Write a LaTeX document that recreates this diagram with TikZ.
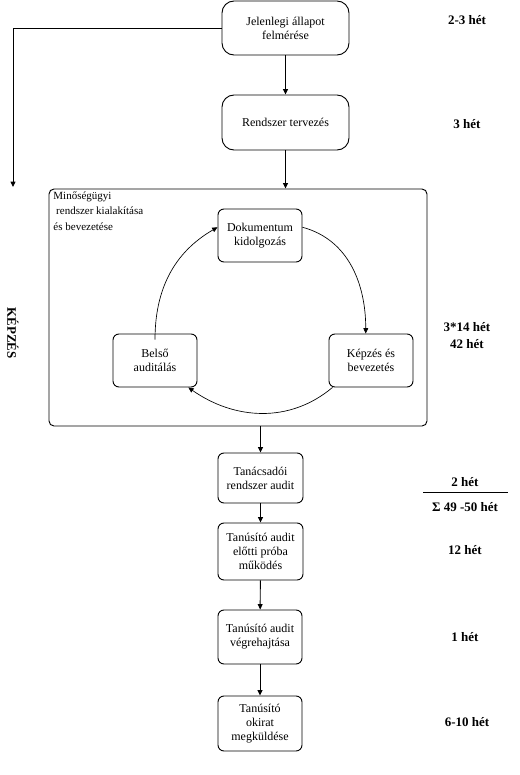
\documentclass[tikz,border=0pt]{standalone}
\usepackage{fontspec}
\setmainfont{Liberation Serif}
\usetikzlibrary{arrows.meta}
\begin{document}
\begin{tikzpicture}[x=0.75pt,y=-0.75pt,
  line width=0.7pt,
  arr/.style={-{Triangle[length=4pt,width=3.6pt]}},
  bigbox/.style={draw, rounded corners=9pt, inner sep=0pt, align=center,
     minimum width=95.25pt, font=\fontsize{9}{10.4}\selectfont},
  smallbox/.style={draw, rounded corners=4.5pt, inner sep=0pt, align=center,
     minimum width=63pt, font=\fontsize{9}{10.4}\selectfont},
  week/.style={font=\fontsize{9.75}{12.75}\selectfont\bfseries, align=center, inner sep=0pt}]
\useasboundingbox[fill=white] (0,0) rectangle (519,775);

% top boxes
\node[bigbox, minimum height=40.5pt] (b1) at (285.5,28) {Jelenlegi állapot\\felmérése};
\node[bigbox, minimum height=41.25pt] (b2) at (285.5,122.5) {Rendszer tervezés};

% big frame
\node[draw, rounded corners=3.75pt, minimum width=283.5pt, minimum height=177.75pt, inner sep=0pt] (frame) at (238,307.5) {};
\node[anchor=north west, align=left, inner sep=0pt, font=\fontsize{8.25}{11.5}\selectfont] (flabel) at (53,191.5)
  {Minőségügyi\\\ rendszer kialakítása\\és bevezetése};

% cycle boxes
\node[smallbox, minimum height=39.75pt] (dok) at (260,235.5) {Dokumentum\\kidolgozás};
\node[smallbox, minimum height=39.75pt] (bel) at (155,360.5) {Belső\\auditálás};
\node[smallbox, minimum height=39.75pt] (kep) at (371,360.5) {Képzés és\\bevezetés};

% lower boxes
\node[smallbox, minimum width=63.75pt, minimum height=37.5pt] (tan) at (260.5,478) {Tanácsadói\\rendszer audit};
\node[smallbox, minimum width=63.75pt, minimum height=42.75pt] (pro) at (260.5,551.5) {Tanúsító audit\\előtti próba\\működés};
\node[smallbox, minimum height=40.5pt] (veg) at (260,637) {Tanúsító audit\\végrehajtása};
\node[smallbox, minimum height=41.25pt] (oki) at (260,723.5) {Tanúsító\\okirat\\megküldése};

% connectors
\draw[arr] (b1) -- (b2);
\draw[arr] (b2.south) -- (b2.south |- frame.north);
\coordinate (kend) at (13,187);
\draw[arr] (b1.west) -| (kend);
\draw[arr] (tan.north |- frame.south) -- (tan.north);
\draw[arr] (tan) -- (pro);
\draw[arr] (pro) -- (veg);
\draw[arr] (veg) -- (oki);

% cycle
\draw[arr, line width=0.5pt] (dok.11) to[out=-15, in=90] (kep.101);
\draw[arr, line width=0.5pt] (kep.-145) to[out=-140, in=-35] (bel.-39);
\draw[arr, line width=0.5pt] ([yshift=-4.5pt]bel.north) to[out=90, in=-150] (dok.169);

% KÉPZÉS
\node[week, rotate=-90] (kepzes) at (13,333) {KÉPZÉS};

% week labels
\node[week] (w1) at (467,20) {2-3 hét};
\node[week] (w2) at (467,124) {3 hét};
\node[week] (w3) at (467,335.5) {3*14 hét\\42 hét};
\node[week] (w4) at (465,482) {2 hét};
\coordinate (rl) at (423,492);
\coordinate (rr) at (508,492);
\draw (rl) -- (rr);
\node[week] (w5) at (465,507) {Σ 49 -50 hét};
\node[week] (w6) at (465,550) {12 hét};
\node[week] (w7) at (465,637) {1 hét};
\node[week] (w8) at (467,722) {6-10 hét};
\end{tikzpicture}
\end{document}
